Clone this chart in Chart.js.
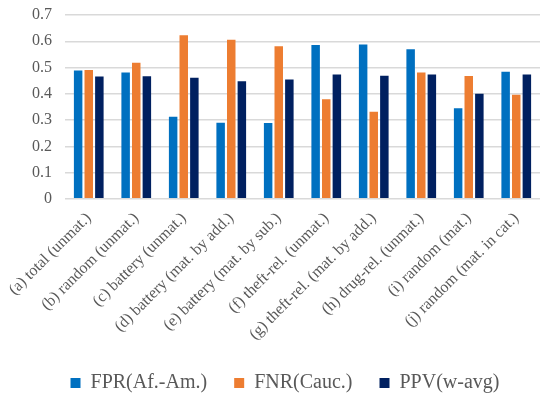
<!DOCTYPE html>
<html>
<head>
<meta charset="utf-8">
<script src="https://cdn.jsdelivr.net/npm/chart.js@4/dist/chart.umd.min.js"></script>
<style>
  html, body { margin: 0; padding: 0; background: #fff; }
  #wrap { width: 543px; height: 396px; }
</style>
</head>
<body>
<div id="wrap"><canvas id="c"></canvas></div>
<script>
const categories = [
  "(a) total (unmat.)",
  "(b) random (unmat.)",
  "(c) battery (unmat.)",
  "(d) battery (mat. by add.)",
  "(e) battery (mat. by sub.)",
  "(f) theft-rel. (unmat.)",
  "(g) theft-rel. (mat. by add.)",
  "(h) drug-rel. (unmat.)",
  "(i) random (mat.)",
  "(j) random (mat. in cat.)"
];
const fprAfAm = [0.489, 0.481, 0.313, 0.290, 0.289, 0.586, 0.588, 0.570, 0.345, 0.484];
const fnrCauc = [0.491, 0.518, 0.623, 0.606, 0.581, 0.379, 0.332, 0.481, 0.468, 0.396];
const ppvWavg = [0.466, 0.467, 0.461, 0.448, 0.454, 0.473, 0.469, 0.473, 0.400, 0.473];
const seriesNames = ["FPR(Af.-Am.)", "FNR(Cauc.)", "PPV(w-avg)"];

const serif = "'Liberation Serif', 'Times New Roman', serif";
const textGrey = "#595959";

new Chart(document.getElementById("c"), {
  type: "bar",
  data: {
    labels: categories,
    datasets: [
      { label: seriesNames[0], data: fprAfAm, backgroundColor: "#0070C0" },
      { label: seriesNames[1], data: fnrCauc, backgroundColor: "#ED7D31" },
      { label: seriesNames[2], data: ppvWavg, backgroundColor: "#002060" }
    ]
  },
  options: {
    responsive: true,
    maintainAspectRatio: false,
    animation: false,
    datasets: { bar: { categoryPercentage: 0.67, barPercentage: 0.8 } },
    layout: { padding: { left: 30, right: 3, top: 15, bottom: -7 } },
    plugins: {
      tooltip: { enabled: false },
      legend: {
        position: "bottom",
        labels: {
          font: { family: serif, size: 20 },
          color: textGrey,
          boxWidth: 10,
          boxHeight: 10,
          padding: 27
        }
      }
    },
    scales: {
      x: {
        grid: { display: false },
        border: { display: false },
        ticks: {
          font: { family: serif, size: 16 },
          color: textGrey,
          minRotation: 45,
          maxRotation: 45,
          autoSkip: false,
          padding: 2
        }
      },
      y: {
        min: 0,
        max: 0.7,
        grid: {
          color: "#d9d9d9",
          lineWidth: 1.5,
          drawTicks: true,
          tickLength: 11,
          tickColor: "rgba(0,0,0,0)"
        },
        border: { display: false },
        ticks: {
          stepSize: 0.1,
          font: { family: serif, size: 16, lineHeight: 1 },
          color: textGrey,
          padding: 2,
          callback: v => Number(v.toFixed(1)).toString()
        }
      }
    }
  }
});
</script>
</body>
</html>
